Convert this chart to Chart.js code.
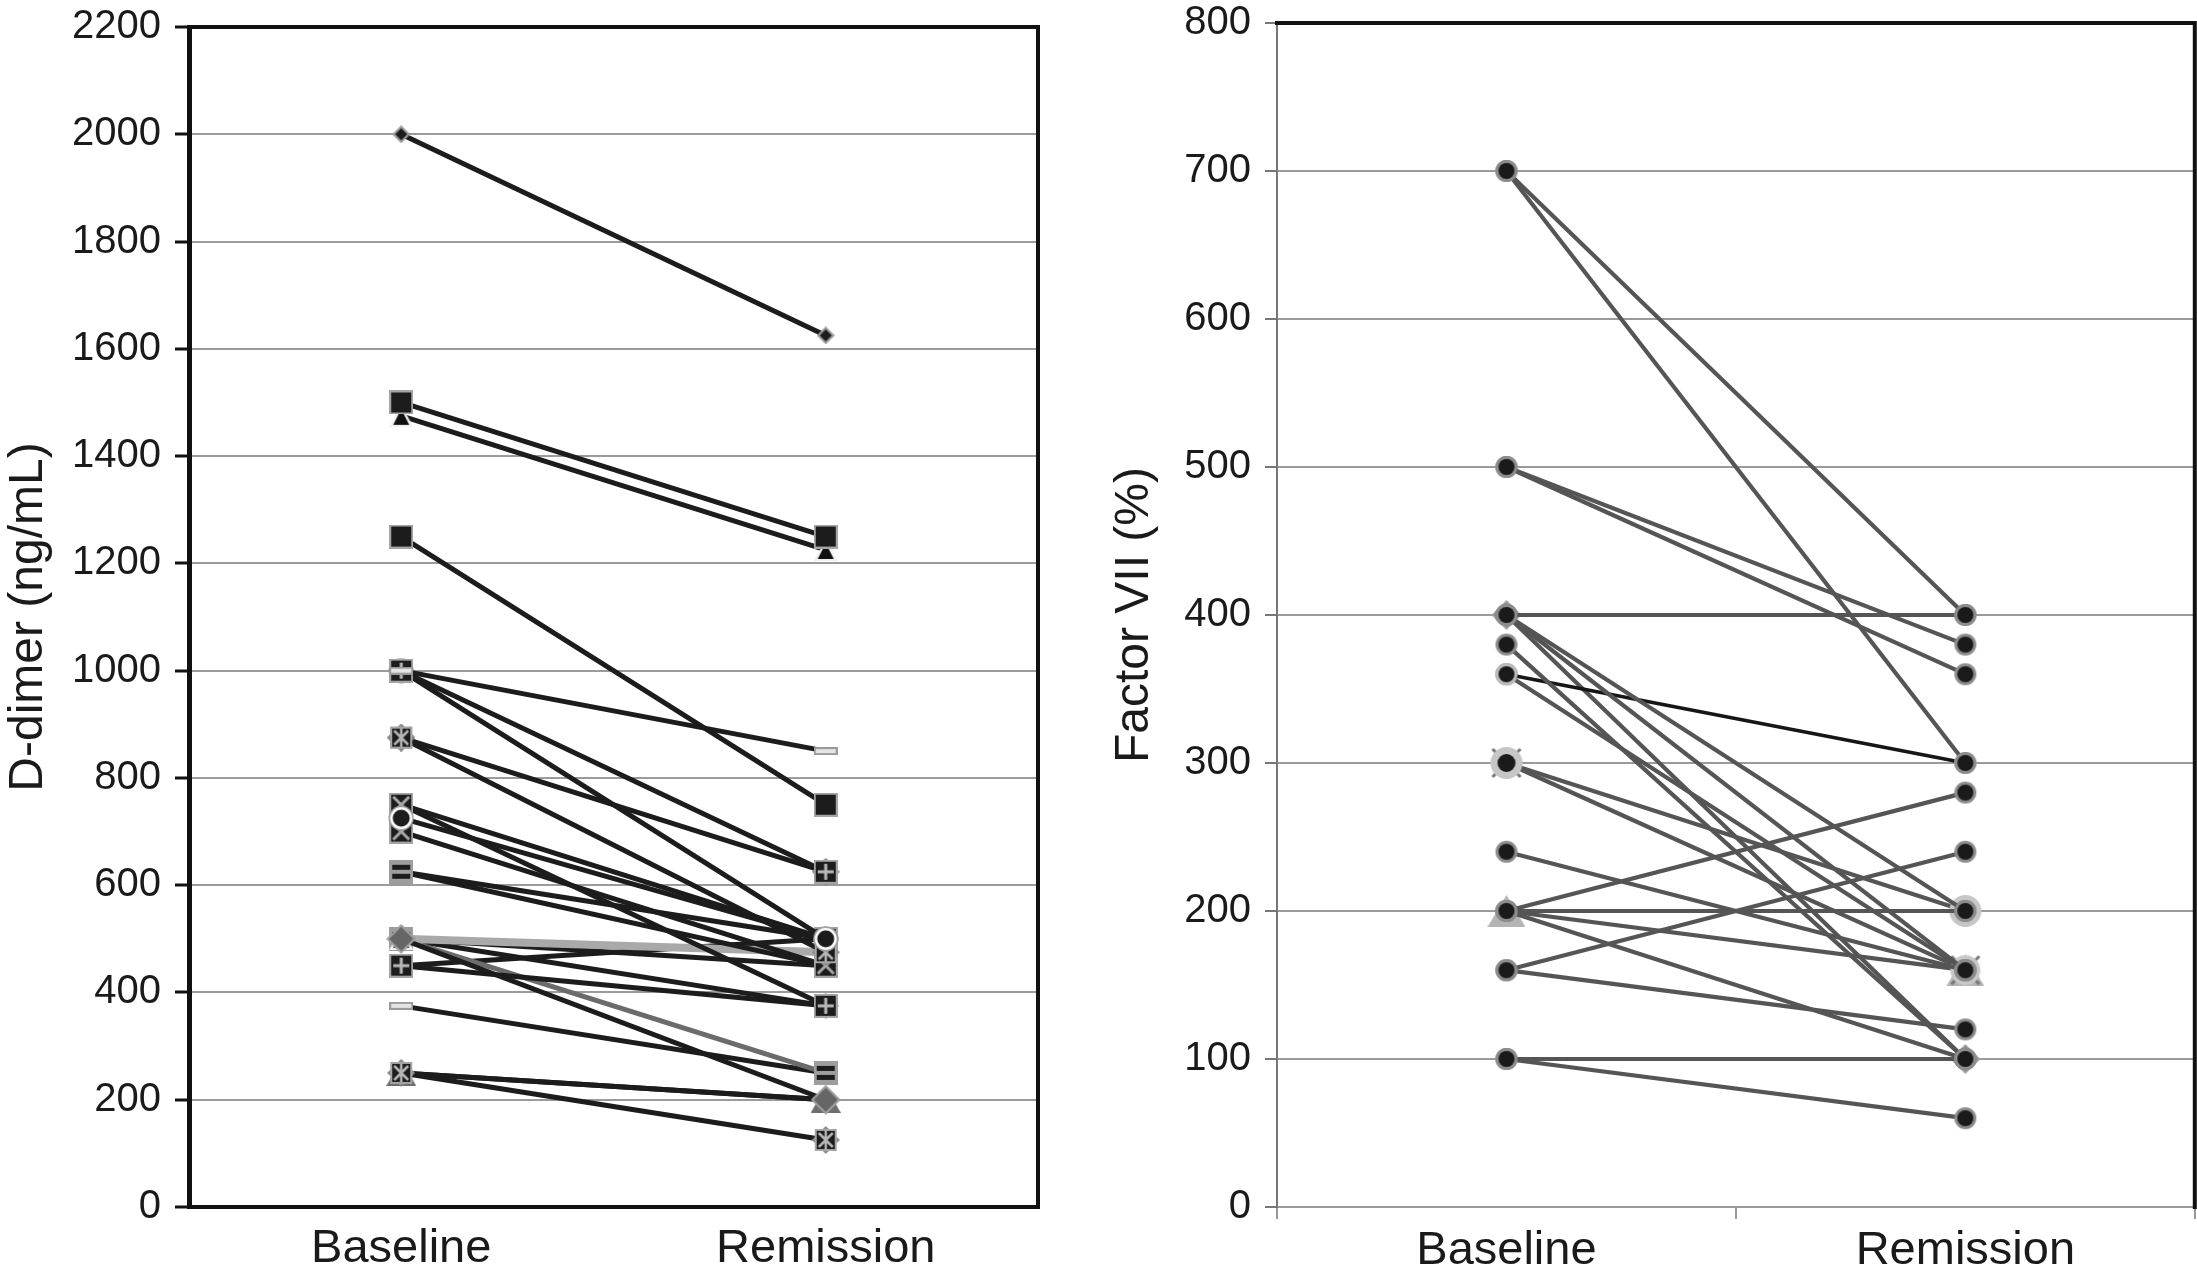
<!DOCTYPE html>
<html><head><meta charset="utf-8">
<script src="https://cdn.jsdelivr.net/npm/chart.js@4.4.1/dist/chart.umd.min.js"></script>
<style>
html,body{margin:0;padding:0;background:#fff;overflow:hidden;width:2197px;height:1275px;position:relative}
#w1{position:absolute;left:0;top:-11px;width:1060px;height:1286px}
#w2{position:absolute;left:1060px;top:-15px;width:1149px;height:1290px}
</style></head><body>
<div id="w1"><canvas id="c1"></canvas></div>
<div id="w2"><canvas id="c2"></canvas></div>
<script>
// ---------- data ----------
const categories = ['Baseline', 'Remission'];

const ddimerBaseline  = [2000,1500,1475,1250,1000,1000,1000,875,875,750,750,725,700,625,625,500,500,500,500,450,450,375,250,250,250,500];
const ddimerRemission = [1625,1250,1225, 750, 850, 625, 500,625,475,375,500,500,450,500,450,475,450,250,200,500,375,250,200,200,125,375];
const ddimerTicks = {min: 0, max: 2200, step: 200};

const factorBaseline  = [700,700,500,500,400,400,400,400,380,360,360,300,300,240,200,200,200,200,160,160,100,100];
const factorRemission = [400,300,380,360,400,200,100,160,100,300,160,200,160,160,280,200,160,100,240,120,100,60];
const factorTicks = {min: 0, max: 800, step: 100};

// ---------- styles ----------
const ddimerMarkers = ['diamondS','sq','triW','sq','dash','sqPlus','circW','sqStar','sqStar','sqX','sqX','circW','sqX','sqEq','sqEq','dash','triW','sqEq','diamondG','sqPlus','sqPlus','dash','triG','diamondD','sqStar','diamondD'];
const ddimerOrder = {20: -1, 11: -1, 18: -1, 24: -1};
const ddimerGrey = {15: '#a9a9a9', 17: '#6b6b6b'};
const ddimerWide = {15: 8};
const factorMarkers = ['c','c','c','c','c','c','diamondG','c','c','cL','c','circL','xCirc','c','c','c','triL','c','c','c','c','c'];
const factorBlack = {9: true};

function mk(w, h, draw) {
  const c = document.createElement('canvas');
  c.width = w; c.height = h;
  draw(c.getContext('2d'), w / 2, h / 2, w, h);
  return c;
}
const DARK = '#1c1c1c', RIM = '#a5a5a5';
function sqBase(g, w, h) { g.fillStyle = RIM; g.fillRect(0, 0, w, h); g.fillStyle = DARK; g.fillRect(2, 2, w - 4, h - 4); }
function dot(g, cx, cy, rim, r1, r2) { g.fillStyle = rim; g.beginPath(); g.arc(cx, cy, r1, 0, 7); g.fill(); g.fillStyle = '#1a1a1a'; g.beginPath(); g.arc(cx, cy, r2, 0, 7); g.fill(); }
function diamond(g, cx, cy, w, h, outer, inner) { g.fillStyle = outer; g.beginPath(); g.moveTo(cx, 0); g.lineTo(w, cy); g.lineTo(cx, h); g.lineTo(0, cy); g.closePath(); g.fill(); g.fillStyle = inner; g.beginPath(); g.moveTo(cx, 3); g.lineTo(w - 3, cy); g.lineTo(cx, h - 3); g.lineTo(3, cy); g.closePath(); g.fill(); }
const lib = {
  sq: mk(24, 24, (g, cx, cy, w, h) => sqBase(g, w, h)),
  sqPlus: mk(24, 24, (g, cx, cy, w, h) => { sqBase(g, w, h); g.strokeStyle = '#b8b8b8'; g.lineWidth = 3; g.beginPath(); g.moveTo(cx, 4); g.lineTo(cx, h - 4); g.moveTo(4, cy); g.lineTo(w - 4, cy); g.stroke(); }),
  sqX: mk(24, 24, (g, cx, cy, w, h) => { sqBase(g, w, h); g.strokeStyle = '#a8a8a8'; g.lineWidth = 3; g.beginPath(); g.moveTo(4, 4); g.lineTo(w - 4, h - 4); g.moveTo(w - 4, 4); g.lineTo(4, h - 4); g.stroke(); }),
  sqStar: mk(28, 28, (g, cx, cy, w, h) => {
    diamond(g, cx, cy, w, h, '#8a8a8a', '#8a8a8a');
    g.fillStyle = RIM; g.fillRect(3, 3, 22, 22); g.fillStyle = DARK; g.fillRect(5, 5, 18, 18);
    g.strokeStyle = '#b5b5b5'; g.lineWidth = 2.5; g.beginPath(); g.moveTo(7, 7); g.lineTo(21, 21); g.moveTo(21, 7); g.lineTo(7, 21); g.moveTo(cx, 5); g.lineTo(cx, 23); g.stroke(); }),
  sqEq: mk(24, 24, (g, cx, cy, w, h) => { g.fillStyle = '#9d9d9d'; g.fillRect(0, 0, w, h); g.fillStyle = DARK; g.fillRect(3, 5, w - 6, 5); g.fillRect(3, 14, w - 6, 5); }),
  dash: mk(24, 8, (g, cx, cy, w, h) => { g.fillStyle = '#9a9a9a'; g.fillRect(0, 0, w, h); g.fillStyle = '#e4e4e4'; g.fillRect(2, 2, w - 4, h - 4); }),
  triW: mk(24, 22, (g, cx, cy, w, h) => { g.fillStyle = '#f2f2f2'; g.beginPath(); g.moveTo(cx, 0); g.lineTo(w, h); g.lineTo(0, h); g.closePath(); g.fill(); g.fillStyle = '#111'; g.beginPath(); g.moveTo(cx, 4); g.lineTo(w - 4, h - 2); g.lineTo(4, h - 2); g.closePath(); g.fill(); }),
  triG: mk(30, 26, (g, cx, cy, w, h) => { g.fillStyle = '#6e6e6e'; g.beginPath(); g.moveTo(cx, 0); g.lineTo(w, h); g.lineTo(0, h); g.closePath(); g.fill(); }),
  diamondS: mk(18, 18, (g, cx, cy, w, h) => diamond(g, cx, cy, w, h, '#9a9a9a', DARK)),
  diamondG: mk(30, 30, (g, cx, cy, w, h) => diamond(g, cx, cy, w, h, '#a0a0a0', '#666')),
  diamondD: mk(26, 26, (g, cx, cy, w, h) => diamond(g, cx, cy, w, h, '#888', DARK)),
  circW: mk(26, 26, (g, cx, cy) => { g.fillStyle = '#999'; g.beginPath(); g.arc(cx, cy, 12.5, 0, 7); g.fill(); g.fillStyle = '#fff'; g.beginPath(); g.arc(cx, cy, 11, 0, 7); g.fill(); g.fillStyle = DARK; g.beginPath(); g.arc(cx, cy, 8.5, 0, 7); g.fill(); }),
  // right-chart markers
  c: mk(24, 24, (g, cx, cy) => dot(g, cx, cy, '#8c8c8c', 11, 8)),
  cL: mk(24, 24, (g, cx, cy) => dot(g, cx, cy, '#bdbdbd', 11, 8)),
  circL: mk(34, 34, (g, cx, cy) => dot(g, cx, cy, '#c6c6c6', 16, 9)),
  xCirc: mk(40, 40, (g, cx, cy) => { g.strokeStyle = '#777'; g.lineWidth = 3; g.beginPath(); g.moveTo(6, 6); g.lineTo(34, 34); g.moveTo(34, 6); g.lineTo(6, 34); g.stroke(); g.fillStyle = '#c8c8c8'; g.beginPath(); g.arc(cx, cy, 15, 0, 7); g.fill(); }),
  triL: mk(38, 32, (g, cx, cy, w, h) => { g.fillStyle = '#b4b4b4'; g.beginPath(); g.moveTo(cx, 0); g.lineTo(w, h); g.lineTo(0, h); g.closePath(); g.fill(); })
};
const behind = new Set(['diamondG', 'circL', 'xCirc', 'triL', 'triG']);

const framePlugin = {
  id: 'frame',
  afterDatasetsDraw(chart, args, opts) {
    const {ctx, chartArea: a} = chart;
    ctx.save();
    ctx.strokeStyle = opts.color; ctx.lineWidth = opts.width;
    ctx.beginPath();
    ctx.moveTo(a.left - 2, a.top); ctx.lineTo(a.right, a.top); ctx.lineTo(a.right, a.bottom + 2);
    ctx.stroke();
    ctx.restore();
  }
};

Chart.defaults.font.family = '"Liberation Sans", Arial, Helvetica, sans-serif';
Chart.defaults.color = '#1a1a1a';

function buildDatasets(base, rem, markers, colorFn, widthFn, orderMap) {
  return base.map((b, i) => ({
    data: [b, rem[i]],
    borderColor: colorFn(i),
    borderWidth: widthFn(i),
    pointStyle: lib[markers[i]],
    pointRadius: 10,
    pointHoverRadius: 10,
    tension: 0,
    fill: false,
    clip: false,
    order: (orderMap && orderMap[i] !== undefined) ? orderMap[i] : (behind.has(markers[i]) ? 10 : 0)
  }));
}

new Chart(document.getElementById('c1'), {
  type: 'line',
  data: {
    labels: categories,
    datasets: buildDatasets(ddimerBaseline, ddimerRemission, ddimerMarkers,
      i => ddimerGrey[i] || '#1c1c1c', i => (ddimerWide[i] || 5), ddimerOrder)
  },
  plugins: [framePlugin],
  options: {
    responsive: true, maintainAspectRatio: false, animation: false, devicePixelRatio: 1,
    layout: {padding: {left: 0, top: 0, right: 22, bottom: 0}},
    plugins: {legend: {display: false}, tooltip: {enabled: false}, frame: {color: '#111', width: 4}},
    scales: {
      x: {
        offset: true,
        grid: {display: false, drawTicks: false},
        border: {display: true, color: '#111', width: 4},
        ticks: {font: {size: 47}, color: '#1a1a1a', padding: 14},
        afterFit(s) { s.height = 68; }
      },
      y: {
        min: ddimerTicks.min, max: ddimerTicks.max,
        ticks: {stepSize: ddimerTicks.step, font: {size: 40}, color: '#1a1a1a', padding: 14, callback: v => String(v)},
        grid: {color: '#9b9b9b', lineWidth: 2, tickLength: 14, tickColor: '#111', tickWidth: 3},
        border: {display: true, color: '#111', width: 5},
        title: {display: true, text: 'D-dimer (ng/mL)', font: {size: 48}, color: '#1a1a1a', padding: {top: 0, bottom: 0}},
        afterFit(s) { s.width = 189; }
      }
    }
  }
});

new Chart(document.getElementById('c2'), {
  type: 'line',
  data: {
    labels: categories,
    datasets: buildDatasets(factorBaseline, factorRemission, factorMarkers,
      i => (factorBlack[i] ? '#161616' : '#555555'), i => (factorBlack[i] ? 3.5 : 4.2))
  },
  plugins: [framePlugin],
  options: {
    responsive: true, maintainAspectRatio: false, animation: false, devicePixelRatio: 1,
    layout: {padding: {left: 0, top: 0, right: 0, bottom: 0}},
    plugins: {legend: {display: false}, tooltip: {enabled: false}, frame: {color: '#111', width: 4}},
    scales: {
      x: {
        offset: true,
        grid: {display: true, offset: true, drawOnChartArea: false, drawTicks: true, tickLength: 12, color: '#999', lineWidth: 2},
        border: {display: true, color: '#999', width: 2},
        ticks: {font: {size: 47}, color: '#1a1a1a', padding: 4},
        afterFit(s) { s.height = 68; }
      },
      y: {
        min: factorTicks.min, max: factorTicks.max,
        ticks: {stepSize: factorTicks.step, font: {size: 40}, color: '#1a1a1a', padding: 14, callback: v => String(v)},
        grid: {color: '#9b9b9b', lineWidth: 2, tickLength: 12, tickColor: '#777', tickWidth: 2},
        border: {display: true, color: '#777', width: 2},
        title: {display: true, text: 'Factor VII (%)', font: {size: 48}, color: '#1a1a1a', padding: {top: 46, bottom: 0}},
        afterFit(s) { s.width = 217; }
      }
    }
  }
});
</script>
</body></html>
